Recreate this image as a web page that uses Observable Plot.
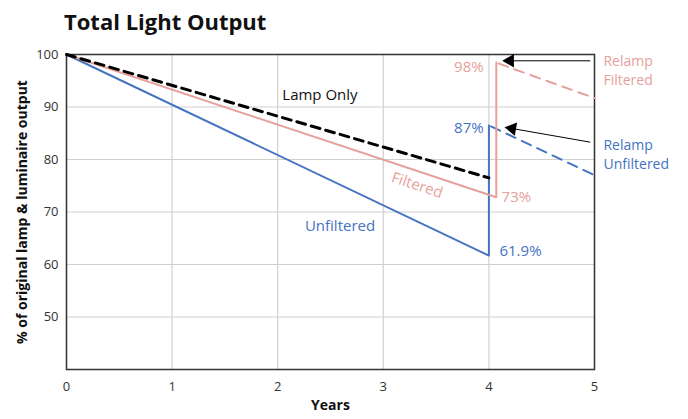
<!DOCTYPE html>
<html><head><meta charset="utf-8">
<script src="https://cdn.jsdelivr.net/npm/d3@7"></script>
<script src="https://cdn.jsdelivr.net/npm/@observablehq/plot@0.6"></script>
<style>
body{margin:0;background:#fff;font-family:"Open Sans",sans-serif;}
#title{height:40px;box-sizing:border-box;padding:8px 0 0 64px;font-size:22px;font-weight:700;line-height:26px;color:#111;}
</style></head><body>
<div id="title">Total Light Output</div>
<div id="chart"></div>
<script>
// Data
const xTicks = [0, 1, 2, 3, 4, 5];
const yTicks = [50, 60, 70, 80, 90, 100];

const lampYears = [0, 4];
const lampValues = [100, 76.5];

const filteredYears = [0, 4.07, 4.07];
const filteredValues = [100, 72.8, 98.5];
const relampFilteredYears = [4.09, 5];
const relampFilteredValues = [98.3, 91.7];

const unfilteredYears = [0, 4, 4];
const unfilteredValues = [100, 61.7, 86.5];
const relampUnfilteredYears = [4.02, 5];
const relampUnfilteredValues = [86.3, 77];

const BLUE = "#4573c2";
const PINK = "#e6a09b";

const pts = (xs, ys) => xs.map((x, i) => ({x, y: ys[i]}));

const chart = Plot.plot({
  width: 688, height: 379,
  marginLeft: 66, marginRight: 94, marginTop: 14, marginBottom: 50,
  style: {fontFamily: "Open Sans, sans-serif", fontSize: "13px", color: "#333", background: "#fff", overflow: "visible"},
  x: {domain: [0, 5]},
  y: {domain: [40, 100]},
  marks: [
    Plot.gridX(xTicks, {stroke: "#d0d0d0", strokeOpacity: 1, strokeWidth: 1.2}),
    Plot.gridY(yTicks, {stroke: "#d0d0d0", strokeOpacity: 1, strokeWidth: 1.2}),
    Plot.axisX(xTicks, {tickSize: 0, tickPadding: 12, label: null, tickFormat: d => d, fontSize: 13}),
    Plot.axisY(yTicks, {tickSize: 0, tickPadding: 8, label: null, tickFormat: d => d, fontSize: 13}),
    Plot.frame({stroke: "#333", strokeWidth: 1.5}),
    Plot.text(["Years"], {frameAnchor: "bottom", dy: 40, fontWeight: "bold", fontSize: 14, fill: "#111"}),
    Plot.text(["% of original lamp & luminaire output"], {frameAnchor: "left", dx: -44, rotate: -90, textAnchor: "middle", fontWeight: "bold", fontSize: 14, fill: "#111"}),

    Plot.line(pts(unfilteredYears, unfilteredValues), {x: "x", y: "y", stroke: BLUE, strokeWidth: 2}),
    Plot.line(pts(relampUnfilteredYears, relampUnfilteredValues), {x: "x", y: "y", stroke: BLUE, strokeWidth: 2, strokeDasharray: "10,7"}),
    Plot.line(pts(filteredYears, filteredValues), {x: "x", y: "y", stroke: PINK, strokeWidth: 2}),
    Plot.line(pts(relampFilteredYears, relampFilteredValues), {x: "x", y: "y", stroke: PINK, strokeWidth: 2, strokeDasharray: "10,7"}),
    Plot.line(pts(lampYears, lampValues), {x: "x", y: "y", stroke: "#000", strokeWidth: 3, strokeDasharray: "9,6"}),

    // arrows
    Plot.link([{x1: 4.96, y1: 98.8, x2: 4.2, y2: 98.8}, {x1: 4.96, y1: 83.3, x2: 4.22, y2: 85.9}],
      {x1: "x1", y1: "y1", x2: "x2", y2: "y2", stroke: "#000", strokeWidth: 1}),
    Plot.dot([{x: 4.2, y: 98.8, r: -90}, {x: 4.22, y: 85.9, r: -80}],
      {x: "x", y: "y", symbol: "triangle", r: 5, rotate: "r", fill: "#000", stroke: "none"}),

    // annotations
    Plot.text(["Lamp Only"], {x: 2.4, y: 92.2, fill: "#111", fontSize: 15}),
    Plot.text(["Unfiltered"], {x: 2.59, y: 67.3, fill: BLUE, fontSize: 15}),
    Plot.text(["Filtered"], {x: 3.32, y: 75.1, fill: PINK, fontSize: 15, rotate: 18}),
    Plot.text(["98%"], {x: 3.95, y: 97.5, fill: PINK, fontSize: 15, textAnchor: "end"}),
    Plot.text(["87%"], {x: 3.95, y: 85.9, fill: BLUE, fontSize: 15, textAnchor: "end"}),
    Plot.text(["73%"], {x: 4.12, y: 72.8, fill: PINK, fontSize: 15, textAnchor: "start"}),
    Plot.text(["61.9%"], {x: 4.1, y: 62.5, fill: BLUE, fontSize: 15, textAnchor: "start"}),
    Plot.text(["Relamp"], {x: 5.085, y: 98.75, fill: PINK, fontSize: 14, textAnchor: "start"}),
    Plot.text(["Filtered"], {x: 5.085, y: 95.05, fill: PINK, fontSize: 14, textAnchor: "start"}),
    Plot.text(["Relamp"], {x: 5.085, y: 82.75, fill: BLUE, fontSize: 14, textAnchor: "start"}),
    Plot.text(["Unfiltered"], {x: 5.085, y: 79.05, fill: BLUE, fontSize: 14, textAnchor: "start"})
  ]
});
document.getElementById("chart").appendChild(chart);
</script></body></html>
